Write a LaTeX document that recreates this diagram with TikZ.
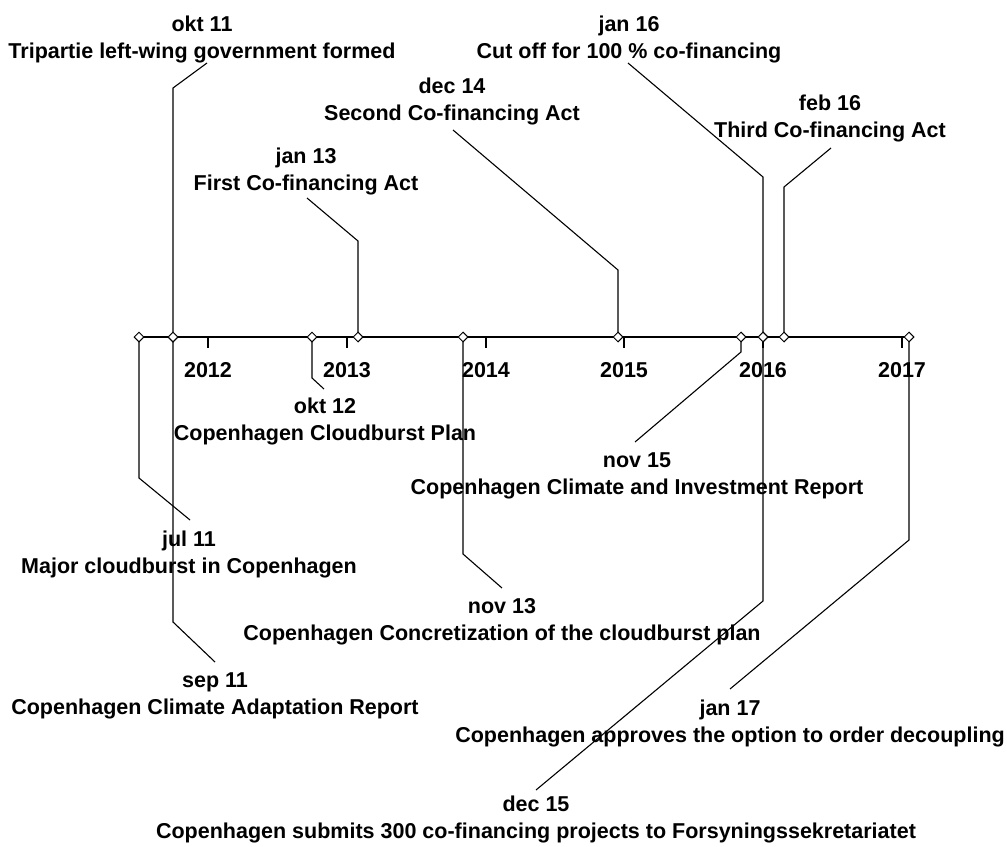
\documentclass[tikz,border=0pt]{standalone}
\usepackage{fontspec}
\setmainfont{Liberation Sans}
\usetikzlibrary{shapes.geometric,backgrounds}
\begin{document}
\begin{tikzpicture}[x=1bp,y=-1bp,
  txt/.style={font=\bfseries\fontsize{21.5bp}{26bp}\selectfont, anchor=base, inner sep=0pt},
  evt/.style={diamond, draw, fill=white, line width=1bp, minimum width=10bp,
              minimum height=10bp, inner sep=0pt},
  lead/.style={line width=1.1bp, line join=miter},
  axisline/.style={line width=2bp}]
\useasboundingbox (0,0) rectangle (1007,847);

% event markers on the time axis
\foreach \n/\x in {jul11/139, okt11/173, sep11/173, okt12/312, jan13/358,
                   nov13/463, dec14/618, nov15/741, dec15/763, jan16/763,
                   feb16/784, jan17/909}
  \node[evt] (ev-\n) at (\x,337) {};

% bends and free ends of the leader lines
\foreach \n/\x/\cy/\ex/\ey in {jul11/139/478/190/520, okt11/173/88/207/63,
    sep11/173/622/215/662, okt12/312/378/324/389, jan13/358/241/307/198,
    nov13/463/554/502/588, dec14/618/270/453/130, nov15/741/352/635/442,
    dec15/763/601/536/790, jan16/763/177/628/63, feb16/784/187/831/148,
    jan17/909/540/730/689}{
  \coordinate (k-\n) at (\x,\cy);
  \coordinate (e-\n) at (\ex,\ey);
}

% event labels: date line and description line
\node[txt] (d-okt11) at (202,31) {okt 11};
\node[txt] (t-okt11) at (202,58) {Tripartie left-wing government formed};
\node[txt] (d-jan16) at (629,31) {jan 16};
\node[txt] (t-jan16) at (629,58) {Cut off for 100 \% co-financing};
\node[txt] (d-dec14) at (452,93) {dec 14};
\node[txt] (t-dec14) at (452,120) {Second Co-financing Act};
\node[txt] (d-feb16) at (830,110) {feb 16};
\node[txt] (t-feb16) at (830,137) {Third Co-financing Act};
\node[txt] (d-jan13) at (306,163) {jan 13};
\node[txt] (t-jan13) at (306,190) {First Co-financing Act};
\node[txt] (d-okt12) at (325,413) {okt 12};
\node[txt] (t-okt12) at (325,440) {Copenhagen Cloudburst Plan};
\node[txt] (d-nov15) at (637,467) {nov 15};
\node[txt] (t-nov15) at (637,494) {Copenhagen Climate and Investment Report};
\node[txt] (d-jul11) at (189,546) {jul 11};
\node[txt] (t-jul11) at (189,573) {Major cloudburst in Copenhagen};
\node[txt] (d-nov13) at (502,613) {nov 13};
\node[txt] (t-nov13) at (502,640) {Copenhagen Concretization of the cloudburst plan};
\node[txt] (d-sep11) at (215,687) {sep 11};
\node[txt] (t-sep11) at (215,714) {Copenhagen Climate Adaptation Report};
\node[txt] (d-jan17) at (730,715) {jan 17};
\node[txt] (t-jan17) at (730,742) {Copenhagen approves the option to order decoupling};
\node[txt] (d-dec15) at (536,811) {dec 15};
\node[txt] (t-dec15) at (536,838) {Copenhagen submits 300 co-financing projects to Forsyningssekretariatet};

% year ticks and labels
\foreach \yr/\x in {2012/208, 2013/347, 2014/486, 2015/624, 2016/763, 2017/902}
  \node[txt] (y\yr) at (\x,377) {\yr};

\begin{scope}[on background layer]
  \draw[axisline] (ev-jul11.center) -- (ev-jan17.center);
  \foreach \x in {208, 347, 486, 624, 763, 902}
    \draw[axisline] (\x,337) -- (\x,348);
  \foreach \n in {jul11, okt11, sep11, okt12, jan13, nov13, dec14, nov15,
                  dec15, jan16, feb16, jan17}
    \draw[lead] (ev-\n.center) -- (k-\n) -- (e-\n);
\end{scope}
\end{tikzpicture}
\end{document}
